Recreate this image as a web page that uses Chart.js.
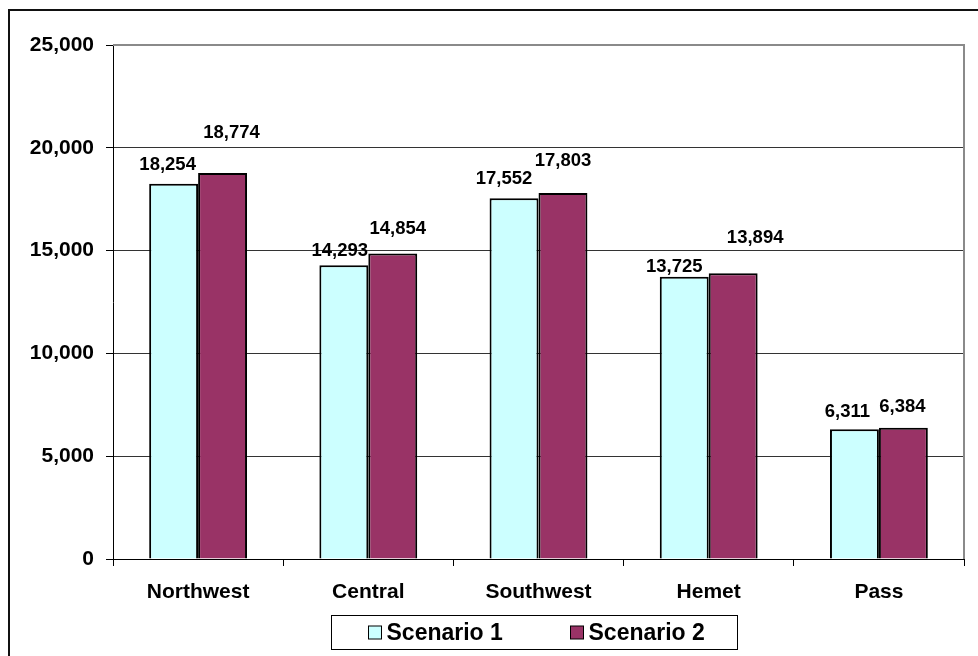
<!DOCTYPE html>
<html>
<head>
<meta charset="utf-8">
<title>Scenario comparison by region</title>
<script src="https://cdn.jsdelivr.net/npm/chart.js@4.4.1/dist/chart.umd.min.js"></script>
<style>
  html, body { margin: 0; padding: 0; background: #fff; }
  #wrap { width: 978px; height: 656px; }
</style>
</head>
<body>
<div id="wrap"><canvas id="chart" width="978" height="656"></canvas></div>
<script>
// chart data
const regions = ['Northwest', 'Central', 'Southwest', 'Hemet', 'Pass'];
const scenario1 = [18254, 14293, 17552, 13725, 6311];
const scenario2 = [18774, 14854, 17803, 13894, 6384];
const seriesNames = ['Scenario 1', 'Scenario 2'];
const yTicks = [0, 5000, 10000, 15000, 20000, 25000];

// labels in the original were dragged by hand: [px right, px above bar top]
const labelShift1 = [[-6, 19], [-4, 14], [-10, 19], [-10, 10], [-7, 17]];
const labelShift2 = [[9, 40], [5, 25], [0, 32], [22, 35], [-1, 21]];

const FONT = "'Liberation Sans', Arial, sans-serif";
const fmt = v => v.toLocaleString('en-US');

// white background + outer chart frame (only left/top edges are in view)
const framePlugin = {
    id: 'frame',
    beforeDraw(chart) {
        const ctx = chart.ctx;
        ctx.save();
        ctx.fillStyle = '#fff';
        ctx.fillRect(0, 0, chart.width, chart.height);
        ctx.strokeStyle = '#111';
        ctx.lineWidth = 2;
        ctx.beginPath();
        ctx.moveTo(9, chart.height + 2);
        ctx.lineTo(9, 10);
        ctx.lineTo(chart.width + 2, 10);
        ctx.stroke();
        ctx.restore();
    },
    afterDraw(chart) {
        // plot area border on the right side
        const { ctx, chartArea } = chart;
        ctx.save();
        ctx.strokeStyle = '#8a8a8a';
        ctx.lineWidth = 2;
        ctx.beginPath();
        ctx.moveTo(chartArea.left, chartArea.top);
        ctx.lineTo(chartArea.right, chartArea.top);
        ctx.lineTo(chartArea.right, chartArea.bottom);
        ctx.stroke();
        ctx.restore();
    }
};

// value labels above the bars
const valueLabels = {
    id: 'valueLabels',
    afterDatasetsDraw(chart) {
        const ctx = chart.ctx;
        const shifts = [labelShift1, labelShift2];
        ctx.save();
        ctx.font = 'bold 18.5px ' + FONT;
        ctx.fillStyle = '#000';
        ctx.textAlign = 'center';
        ctx.textBaseline = 'middle';
        chart.data.datasets.forEach((ds, d) => {
            chart.getDatasetMeta(d).data.forEach((bar, i) => {
                const [dx, dy] = shifts[d][i];
                ctx.fillText(fmt(ds.data[i]), bar.x + dx, bar.y - dy);
            });
        });
        ctx.restore();
    }
};

// boxed legend under the plot, Excel style
const boxedLegend = {
    id: 'boxedLegend',
    afterDraw(chart) {
        const { ctx, chartArea } = chart;
        const w = 406, h = 34;
        const left = Math.round((chartArea.left + chartArea.right) / 2 - 208) + 0.5;
        const top = 615.5;
        ctx.save();
        ctx.strokeStyle = '#000';
        ctx.lineWidth = 1;
        ctx.strokeRect(left, top, w, h);
        ctx.font = 'bold 23px ' + FONT;
        ctx.textBaseline = 'middle';
        ctx.textAlign = 'left';
        const itemX = [left + 37, left + 239];
        chart.data.datasets.forEach((ds, d) => {
            const x = itemX[d];
            const y = top + h / 2;
            ctx.fillStyle = ds.backgroundColor;
            ctx.fillRect(x, y - 6.5, 13, 13);
            ctx.strokeRect(x, y - 6.5, 13, 13);
            ctx.fillStyle = '#000';
            ctx.fillText(ds.label, x + 18, y + 1);
        });
        ctx.restore();
    }
};

new Chart(document.getElementById('chart'), {
    type: 'bar',
    data: {
        labels: regions,
        datasets: [
            {
                label: seriesNames[0],
                data: scenario1,
                backgroundColor: '#CCFFFF',
                borderColor: '#000',
                borderWidth: 2
            },
            {
                label: seriesNames[1],
                data: scenario2,
                backgroundColor: '#993366',
                borderColor: '#000',
                borderWidth: 2
            }
        ]
    },
    options: {
        responsive: false,
        animation: false,
        categoryPercentage: 0.575,
        barPercentage: 1,
        layout: { padding: { left: 8, top: 45, right: 14, bottom: 37 } },
        plugins: {
            legend: { display: false },
            tooltip: { enabled: false },
            title: { display: false }
        },
        scales: {
            x: {
                grid: {
                    offset: true,
                    drawOnChartArea: false,
                    tickLength: 7,
                    color: '#000'
                },
                border: { color: '#000', width: 1 },
                ticks: {
                    color: '#000',
                    padding: 14,
                    font: { family: FONT, size: 21, weight: 'bold' }
                },
                afterFit(scale) { scale.height = 60; }
            },
            y: {
                min: 0,
                max: 25000,
                afterBuildTicks(scale) {
                    scale.ticks = yTicks.map(v => ({ value: v }));
                },
                grid: {
                    color: '#333',
                    tickLength: 7,
                    tickColor: '#000'
                },
                border: { color: '#000', width: 1 },
                ticks: {
                    color: '#000',
                    padding: 12,
                    font: { family: FONT, size: 21, weight: 'bold' },
                    callback: v => fmt(v)
                },
                afterFit(scale) { scale.width = 105; }
            }
        }
    },
    plugins: [framePlugin, valueLabels, boxedLegend]
});
</script>
</body>
</html>
